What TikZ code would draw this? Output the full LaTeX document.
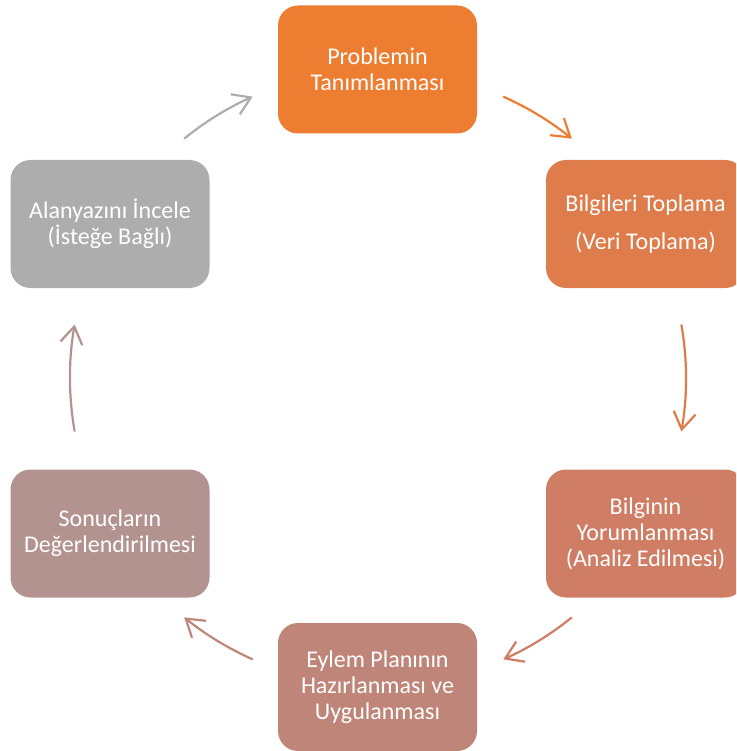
\documentclass[tikz,border=0pt]{standalone}
\usepackage{fontspec}
\setmainfont{Carlito}
\usetikzlibrary{arrows.meta}
\definecolor{cA}{HTML}{ED7D31}
\definecolor{cB}{HTML}{DE7C4C}
\definecolor{cC}{HTML}{CF7D64}
\definecolor{cD}{HTML}{BF8579}
\definecolor{cE}{HTML}{B3938F}
\definecolor{cF}{HTML}{ADADAD}
\begin{document}
\begin{tikzpicture}[x=1pt,y=1pt,
  stepbox/.style={rounded corners=20pt, minimum width=199pt, minimum height=128pt,
    text=white, align=center, inner sep=0pt, font=\fontsize{24}{26}\selectfont},
  cyc/.style={line width=2.2pt, -{Straight Barb[length=17pt,width=22pt]}}]
\useasboundingbox (0,0) rectangle (736,-751);
\clip (0,0) rectangle (736,-751);
\node[stepbox, fill=cA] (p1) at (377.5,-69.5) {Problemin\\Tanımlanması};
\node[stepbox, fill=cB] (p2) at (645.5,-224) {Bilgileri Toplama\\[12pt](Veri Toplama)};
\node[stepbox, fill=cC] (p3) at (645.5,-533.5) {Bilginin\\Yorumlanması\\(Analiz Edilmesi)};
\node[stepbox, fill=cD] (p4) at (377.5,-687) {Eylem Planının\\Hazırlanması ve\\Uygulanması};
\node[stepbox, fill=cE] (p5) at (110,-533.5) {Sonuçların\\Değerlendirilmesi};
\node[stepbox, fill=cF] (p6) at (110,-224) {Alanyazını İncele\\(İsteğe Bağlı)};
\coordinate (O) at (378,-378);
\coordinate (a1) at ([shift={(66:308)}]O);
\coordinate (a2) at ([shift={(10:308)}]O);
\coordinate (a3) at ([shift={(-51:308)}]O);
\coordinate (a4) at ([shift={(-114:308)}]O);
\coordinate (a5) at ([shift={(190:308)}]O);
\coordinate (a6) at ([shift={(129:308)}]O);
\draw[cyc, draw=cA] (a1) arc[start angle=66, end angle=51, radius=308];
\draw[cyc, draw=cB] (a2) arc[start angle=10, end angle=-10, radius=308];
\draw[cyc, draw=cC] (a3) arc[start angle=-51, end angle=-66, radius=308];
\draw[cyc, draw=cD] (a4) arc[start angle=-114, end angle=-129, radius=308];
\draw[cyc, draw=cE] (a5) arc[start angle=190, end angle=170, radius=308];
\draw[cyc, draw=cF] (a6) arc[start angle=129, end angle=114, radius=308];
\end{tikzpicture}
\end{document}
